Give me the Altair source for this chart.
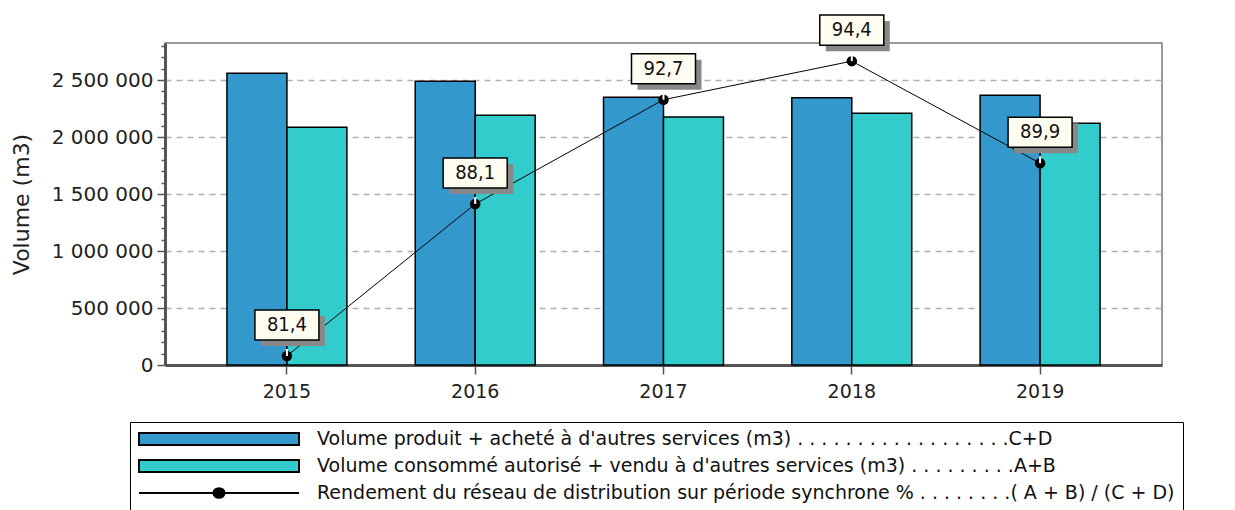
import altair as alt
import pandas as pd

# ---- data ----
years = ["2015", "2016", "2017", "2018", "2019"]
volume_produit = [2560000, 2489000, 2348000, 2344000, 2366000]
volume_consomme = [2085000, 2191000, 2176000, 2209000, 2122000]
rendement = [81.4, 88.1, 92.7, 94.4, 89.9]

series_names = [
    "Volume produit + acheté à d'autres services (m3) . . . . . . . . . . . . . . . . . .C+D",
    "Volume consommé autorisé + vendu à d'autres services (m3) . . . . . . . . .A+B",
    "Rendement du réseau de distribution sur période synchrone % . . . . . . . .( A + B) / (C + D)",
]
series_colors = ["#3399CC", "#33CCCC", "#000000"]

left_ticks = [v * 100000 for v in range(0, 29)]
right_ticks = [81 + 0.5 * i for i in range(0, 29)]

bars_df = pd.DataFrame({
    "year": years * 2,
    "serie": [series_names[0]] * len(years) + [series_names[1]] * len(years),
    "volume": volume_produit + volume_consomme,
})
rend_df = pd.DataFrame({"year": years, "rendement": rendement})

FONT = "DejaVu Sans"
BOX = "M-1,-0.47L1,-0.47L1,0.47L-1,0.47Z"
LEG_RECT = "M-1,-0.075L1,-0.075L1,0.075L-1,0.075Z"
LEG_LINE = "M-1,0L1,0M-0.07,0A0.07,0.06 0 1,0 0.07,0A0.07,0.06 0 1,0 -0.07,0Z"

x_enc = alt.X(
    "year:N",
    sort=years,
    scale=alt.Scale(paddingInner=0.363, paddingOuter=0.329),
    axis=alt.Axis(
        title=None, labelAngle=0, domainColor="#555", domainWidth=3,
        tickColor="#555", tickWidth=1.5, tickSize=9, labelPadding=8,
        labelFontSize=19,
    ),
)

legend = alt.Legend(
    title=None,
    orient="none",
    legendX=-35,
    legendY=379,
    direction="vertical",
    strokeColor="black",
    fillColor="white",
    padding=8,
    rowPadding=8,
    clipHeight=18,
    symbolSize=25600,
    symbolType={"expr": f"datum.index == 2 ? '{LEG_LINE}' : '{LEG_RECT}'"},
    symbolStrokeColor="black",
    symbolStrokeWidth=2,
    symbolOpacity=1,
    labelFont=FONT,
    labelFontSize=19,
    labelColor="#111",
    labelOffset=17,
    labelLimit=2000,
)

color_scale = alt.Scale(domain=series_names, range=series_colors)

bars = alt.Chart(bars_df).mark_bar(stroke="black", strokeWidth=1.5, opacity=1).encode(
    x=x_enc,
    xOffset=alt.XOffset("serie:N", sort=series_names[:2]),
    y=alt.Y(
        "volume:Q",
        scale=alt.Scale(domain=[0, 2825000], nice=False),
        axis=alt.Axis(
            title="Volume (m3)",
            values=left_ticks,
            labelExpr="datum.value % 500000 == 0 ? replace(format(datum.value, ','), regexp(',', 'g'), ' ') : ''",
            tickSize={"condition": {"test": "datum.value % 500000 == 0", "value": 8}, "value": 4},
            grid=True,
            gridOpacity={"condition": {"test": "datum.value % 500000 == 0 && datum.value > 0", "value": 1}, "value": 0},
            gridDash=[6, 5],
            gridColor="#B0B0B0",
            gridWidth=1.5,
            domainColor="#555",
            domainWidth=3,
            tickColor="#555",
            tickWidth=1.5,
            labelPadding=4,
            titlePadding=18,
        ),
    ),
    color=alt.Color("serie:N", scale=color_scale, legend=legend),
)

r_scale = alt.Scale(domain=[81, 95.2], nice=False, zero=False)
r_axis = alt.Axis(
    orient="right",
    title="Rendement (%)",
    values=right_ticks,
    labelExpr="datum.value % 2 == 0 ? format(datum.value, 'd') : ''",
    tickSize={"condition": {"test": "datum.value % 2 == 0", "value": 8}, "value": 4},
    grid=False,
    domainColor="#555",
    domainWidth=3,
    tickColor="#555",
    tickWidth=1.5,
    labelPadding=5,
    titlePadding=6,
)

base = alt.Chart(rend_df).transform_calculate(
    lab="replace(format(datum.rendement, '.1f'), '.', ',')"
)
y_r = alt.Y("rendement:Q", scale=r_scale, axis=r_axis)
y_r_noaxis = alt.Y("rendement:Q", scale=r_scale, axis=None)

line = base.mark_line(strokeWidth=1, color="black").encode(x=x_enc, y=y_r)
points = base.mark_point(filled=True, size=110, color="black", opacity=1).encode(x=x_enc, y=y_r_noaxis)
notch = base.mark_tick(orient="vertical", size=7, thickness=2, color="white", yOffset=-3.5, opacity=1).encode(
    x=x_enc, y=y_r_noaxis
)
shadow = base.mark_point(shape=BOX, size=4096, filled=True, color="#888888", opacity=1, xOffset=6, yOffset=-25).encode(
    x=x_enc, y=y_r_noaxis
)
box = base.mark_point(
    shape=BOX, size=4096, filled=True, fill="#FFFCF0", stroke="black", strokeWidth=1.5,
    opacity=1, fillOpacity=1, strokeOpacity=1, yOffset=-31,
).encode(x=x_enc, y=y_r_noaxis)
text = base.mark_text(font="DejaVu Sans Condensed", fontSize=20, color="#111", baseline="middle", yOffset=-31).encode(
    x=x_enc, y=y_r_noaxis, text="lab:N"
)

right_layer = alt.layer(line, points, notch, shadow, box, text)

chart = alt.layer(bars, right_layer).resolve_scale(y="independent").properties(
    width=997,
    height=322,
    autosize=alt.AutoSizeParams(type="none"),
    padding={"left": 165, "top": 43, "right": 73, "bottom": 145},
).configure_view(stroke="#777", strokeWidth=1.5).configure_axis(
    labelFont=FONT, labelFontSize=20, labelColor="#222",
    titleFont=FONT, titleFontSize=22, titleFontWeight="normal", titleColor="#222",
)

chart.save("out.html", embed_options={"renderer": "svg", "actions": False})
